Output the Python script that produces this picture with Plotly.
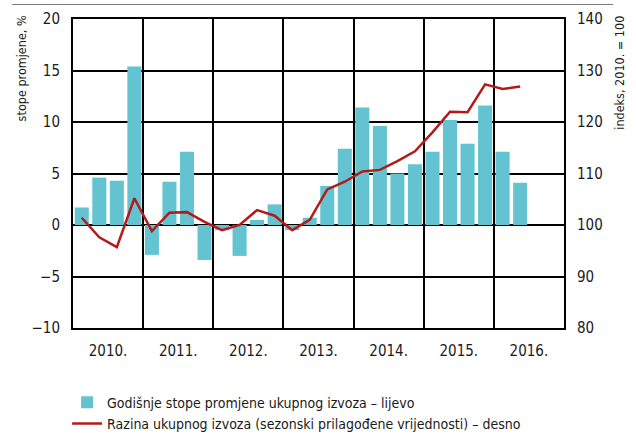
import plotly.graph_objects as go

# quarterly data, 2010 Q1 - 2016 Q2
years = ["2010.", "2011.", "2012.", "2013.", "2014.", "2015.", "2016."]
growth = [1.7, 4.6, 4.3, 15.4,
          -2.9, 4.2, 7.1, -3.4,
          -0.5, -3.0, 0.5, 2.0,
          -0.5, 0.7, 3.8, 7.4,
          11.4, 9.6, 5.0, 5.9,
          7.1, 10.2, 7.9, 11.6,
          7.1, 4.1]
level = [101.4, 97.6, 95.7, 105.2,
         98.8, 102.4, 102.5, 100.6,
         99.0, 100.0, 102.9, 101.8,
         99.0, 101.0, 106.9, 108.4,
         110.4, 110.7, 112.4, 114.3,
         118.0, 122.0, 121.9, 127.3,
         126.4, 126.9]

quarters = list(range(len(growth)))
year_centers = [4 * i + 1.5 for i in range(len(years))]
year_edges = [4 * i - 0.5 for i in range(len(years) + 1)]

FONT = "DejaVu Sans Condensed, Liberation Sans Narrow, Liberation Sans, sans-serif"

fig = go.Figure()
fig.add_trace(go.Bar(x=quarters, y=growth, width=0.8, marker_color="#63c3d1",
                     marker_line_width=0,
                     name="Godišnje stope promjene ukupnog izvoza – lijevo"))
fig.add_trace(go.Scatter(x=quarters, y=level, mode="lines", yaxis="y2",
                         line=dict(color="#b31b1b", width=2.5),
                         name="Razina ukupnog izvoza (sezonski prilagođene vrijednosti) – desno"))

fig.update_layout(
    width=636, height=434,
    margin=dict(l=73, r=72, t=19, b=106, autoexpand=False),
    paper_bgcolor="white", plot_bgcolor="white",
    font=dict(family=FONT, size=15, color="#1a1a1a"),
    showlegend=True,
    legend=dict(x=-0.012, y=-0.19, xanchor="left", yanchor="top",
                font=dict(size=14), tracegroupgap=0, itemwidth=30),
    xaxis=dict(range=[-0.5, 27.5], tickvals=year_centers, ticktext=years,
               showgrid=False, showline=True, linecolor="black", linewidth=2,
               mirror=True, ticks="", zeroline=False, automargin=False,
               minor=dict(tickvals=year_edges, showgrid=True,
                          gridcolor="black", gridwidth=1.5, ticks="")),
    yaxis=dict(range=[-10, 20], dtick=5, showgrid=True, gridcolor="black",
               gridwidth=1.5, zeroline=True, zerolinecolor="black",
               zerolinewidth=1.5, showline=True, linecolor="black",
               linewidth=2, ticks="", tickformat="d", automargin=False),
    yaxis2=dict(range=[80, 140], dtick=10, overlaying="y", side="right",
                showgrid=False, zeroline=False, showline=True,
                linecolor="black", linewidth=2, ticks="", automargin=False),
    bargap=0.2,
)
fig.update_yaxes(ticklabelstandoff=8)
fig.update_xaxes(ticklabelstandoff=8)

fig.add_annotation(text="stope promjene, %", textangle=-90, xref="paper",
                   yref="paper", x=-0.104, y=0.84, xanchor="center",
                   yanchor="middle", showarrow=False, font=dict(size=12.5))
fig.add_annotation(text="indeks, 2010. = 100", textangle=-90, xref="paper",
                   yref="paper", x=1.114, y=0.826, xanchor="center",
                   yanchor="middle", showarrow=False, font=dict(size=12.5))
fig.add_shape(type="line", xref="paper", yref="paper", x0=-0.124, x1=1.1,
              y0=1.047, y1=1.047, line=dict(color="#777777", width=1))

# drop the default page margin so the figure sits at the window corner
fig.write_html("out.html", config={"displayModeBar": False},
               post_script="document.body.style.margin='0px';")
